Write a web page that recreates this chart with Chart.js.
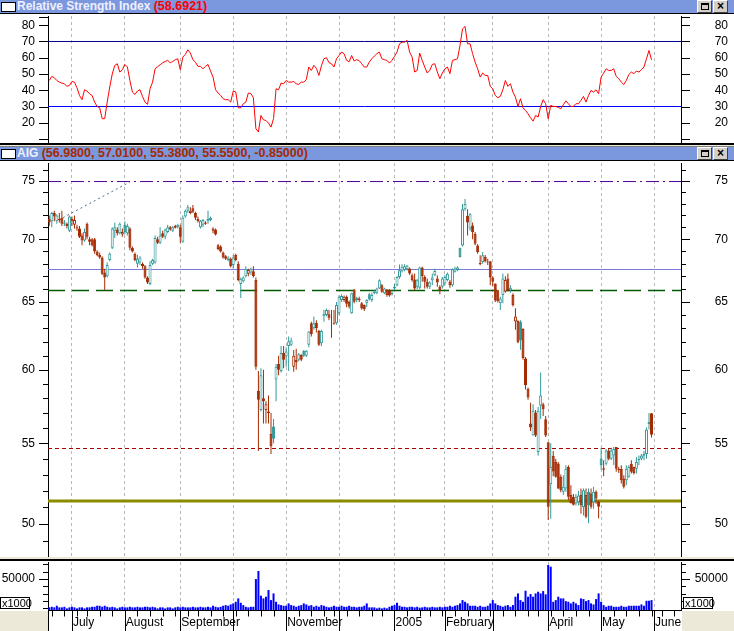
<!DOCTYPE html>
<html>
<head>
<meta charset="utf-8">
<title>AIG</title>
<script src="https://cdn.jsdelivr.net/npm/chart.js@4.4.1/dist/chart.umd.min.js"></script>
<style>
  body { margin: 0; width: 734px; height: 631px; position: relative; overflow: hidden; background: #fff;
         font-family: 'Liberation Sans', Arial, sans-serif; }
  canvas { position: absolute; left: 0; }
  .strip { position: absolute; left: 0; width: 734px; }
  .title { position: absolute; left: 0; width: 734px; height: 13px; background: #7b97de; border-bottom: 1px solid #000;
           font: bold 12px 'Liberation Sans', Arial, sans-serif; line-height: 13px; color: #eef0ff; white-space: nowrap; }
  .title .box { position: absolute; left: 1px; top: 2px; width: 13px; height: 8px; background: #fff; border: 1px solid #000; }
  .title .txt { position: absolute; left: 17px; top: 0; }
  .title .val { font-size: 12.5px; }
  .btn { position: absolute; top: 0; width: 13px; height: 11px; background: #d4d0c8; border: 1px solid;
         border-color: #fff #404040 #404040 #fff; font: bold 12px 'Liberation Sans', Arial, sans-serif;
         line-height: 11px; text-align: center; color: #000; }
  .btn .sq { position: absolute; left: 3px; top: 2px; width: 6px; height: 4px; border: 1px solid #000; border-top-width: 2px; }
  .grey { position: absolute; background: #ece9d8; }
  .unit { position: absolute; top: 597px; width: 27px; height: 10px; border: 1px solid #000; background: #fff;
          font: 11px 'Liberation Sans', Arial, sans-serif; line-height: 10px; padding-left: 1px; }
</style>
</head>
<body>
<div class="grey" style="left:0;top:611px;width:48px;height:20px"></div>
<div class="grey" style="left:682px;top:611px;width:52px;height:20px"></div>

<div class="title" style="top:0">
  <div class="box"></div>
  <div class="txt" id="rsiTitle"></div>
  <div class="btn" style="left:697px"><div class="sq"></div></div>
  <div class="btn" style="left:713px">×</div>
</div>
<canvas id="rsiChart" width="734" height="128" style="top:15px"></canvas>
<div class="strip" style="top:143px;height:2px;background:#000"></div>
<div class="strip" style="top:145px;height:1px;background:#ece9d8"></div>
<div class="strip" style="top:146px;height:1px;background:#808080"></div>
<div class="title" style="top:147px">
  <div class="box"></div>
  <div class="txt" id="priceTitle"></div>
  <div class="btn" style="left:697px"><div class="sq"></div></div>
  <div class="btn" style="left:713px">×</div>
</div>
<canvas id="priceChart" width="734" height="395" style="top:162px"></canvas>
<div class="strip" style="top:557px;height:2px;background:#ece9d8"></div>
<div class="strip" style="top:559px;height:2px;background:#000"></div>
<canvas id="volChart" width="734" height="70" style="top:561px"></canvas>
<div class="unit" style="left:0">x1000</div>
<div class="unit" style="left:683px">x1000</div>

<script>
// daily bars, 18 Jun 2004 .. 31 May 2005
const opens = [
  71.7,71.5,72.2,71.5,71.6,71.8,71.4,71.3,70.7,71.5,
  71.2,71.0,70.9,70.3,69.9,71.3,70.0,70.0,70.0,69.0,
  68.7,68.5,67.3,67.0,68.3,69.3,70.7,70.8,70.5,70.4,
  71.2,70.5,70.9,69.3,68.8,68.0,68.1,68.0,67.8,66.9,
  66.4,68.0,68.1,70.0,69.7,70.5,70.2,70.6,71.0,70.7,
  71.1,71.0,71.0,69.8,71.9,72.4,72.2,72.6,72.2,71.7,
  71.0,71.2,71.4,71.5,71.6,70.7,70.8,69.5,69.4,68.9,
  68.6,68.3,68.4,67.9,68.7,68.0,66.4,66.6,67.0,67.2,
  67.3,67.4,66.7,58.5,57.2,58.0,57.2,57.1,55.6,56.1,
  59.3,60.4,59.9,61.2,60.95,61.7,61.8,60.2,60.7,60.7,
  61.05,61.36,61.0,61.8,63.39,63.0,63.4,62.8,61.9,63.9,
  64.0,64.05,63.8,63.4,63.39,64.13,65.15,65.14,65.4,65.0,
  64.13,65.96,65.14,65.27,64.9,64.76,64.9,65.6,65.14,65.66,
  65.7,66.04,66.3,65.66,65.91,65.9,65.6,66.04,66.3,66.95,
  67.4,67.5,67.55,67.62,67.08,66.75,66.17,66.1,67.7,66.95,
  66.56,66.17,66.69,67.08,66.82,66.17,66.17,66.43,66.7,66.56,
  66.3,67.35,67.5,69.3,69.49,72.53,71.98,70.9,71.14,70.45,
  69.49,68.07,68.15,68.55,68.1,68.2,66.9,66.43,65.9,64.89,
  65.53,65.8,66.82,65.91,65.53,63.51,63.55,63.5,62.95,60.8,
  58.66,56.3,55.5,57.04,54.43,57.5,57.6,56.59,55.07,52.4,
  54.2,53.8,53.7,52.86,51.93,52.13,53.48,51.73,51.63,51.22,
  51.3,51.73,51.0,51.73,51.93,51.83,51.3,51.93,51.32,54.0,
  53.4,53.69,54.53,54.0,54.21,54.75,53.37,53.37,52.75,52.65,
  52.86,53.69,53.48,53.37,53.9,54.0,54.2,54.3,56.26,56.98
];
const highs = [
  72.0,72.3,72.4,72.1,72.2,72.4,71.6,71.4,72.0,71.9,
  72.0,71.2,71.1,70.5,70.9,71.4,70.2,70.1,70.1,69.1,
  68.9,68.6,67.6,68.1,68.9,71.0,71.4,71.0,71.4,70.9,
  71.5,71.3,71.0,69.4,68.9,68.7,68.6,68.1,67.9,67.0,
  68.2,68.4,70.3,70.2,71.0,70.7,70.9,71.2,71.1,71.1,
  71.2,71.3,71.2,72.0,72.5,72.9,72.7,72.9,72.3,71.9,
  71.6,71.7,71.5,72.4,71.9,71.0,70.9,69.6,69.5,69.0,
  68.7,68.6,68.5,68.7,68.8,68.2,66.9,67.0,67.8,67.6,
  67.7,67.8,66.9,59.9,60.1,60.0,57.8,58.2,57.0,56.6,
  60.4,61.0,61.7,61.7,61.6,62.4,62.3,61.4,61.5,61.2,
  61.1,61.4,61.4,62.8,63.5,63.88,63.6,62.9,62.9,64.4,
  64.5,64.4,64.38,64.38,65.0,65.5,65.6,65.5,65.5,65.1,
  65.7,66.0,65.4,65.4,65.0,64.8,65.2,65.7,65.7,65.9,
  66.1,66.77,66.4,66.1,66.0,66.0,65.8,66.4,67.0,67.94,
  67.95,67.95,67.9,67.7,67.22,67.22,66.8,67.75,67.75,67.08,
  66.82,66.6,67.22,67.6,67.08,66.3,66.95,67.1,67.3,66.7,
  67.62,67.75,67.8,69.3,72.97,73.4,72.53,72.2,71.4,70.6,
  69.6,68.68,68.95,68.7,68.4,68.2,67.0,66.43,65.95,65.4,
  67.22,67.0,67.22,66.3,65.66,64.51,63.6,63.6,63.0,60.9,
  58.74,57.7,57.6,57.2,57.4,59.8,57.7,56.8,55.07,55.0,
  54.5,54.0,53.8,53.0,52.96,53.58,53.58,52.34,51.8,51.8,
  52.0,52.13,52.13,52.13,52.13,52.13,52.24,52.03,51.4,54.7,
  53.9,54.63,54.63,54.7,54.75,54.75,53.5,53.58,52.96,53.58,
  53.6,53.9,53.5,54.11,54.21,54.3,54.5,56.04,57.0,57.01
];
const lows = [
  71.1,71.0,71.5,71.3,71.4,71.1,71.1,70.9,70.6,71.1,
  70.9,70.7,70.1,69.5,69.8,70.0,69.5,69.4,68.8,68.6,
  68.4,67.1,65.9,66.9,68.2,69.2,70.1,70.3,70.4,70.2,
  70.4,70.3,69.1,68.9,68.2,67.7,67.9,67.6,66.8,66.4,
  66.3,67.9,68.0,69.6,69.6,70.1,70.0,70.5,70.7,70.6,
  70.9,70.9,69.7,69.7,71.8,72.2,72.1,72.2,71.6,71.4,
  70.9,71.0,71.2,71.3,71.5,70.5,70.3,69.1,68.9,68.4,
  68.3,68.2,67.7,67.6,68.2,66.6,65.3,66.5,66.9,67.0,
  67.1,66.9,60.0,54.5,57.1,56.3,56.3,56.3,54.3,55.0,
  57.8,59.6,59.8,60.1,60.2,59.9,61.7,59.85,60.0,60.6,
  60.6,60.9,60.9,61.6,62.4,62.9,62.7,61.7,61.7,63.5,
  63.9,63.6,62.3,63.26,63.26,64.0,65.0,65.0,64.6,64.5,
  64.1,64.9,65.0,65.0,64.4,64.3,64.6,65.1,65.0,65.6,
  65.6,66.0,65.7,65.6,65.4,65.4,65.5,65.9,66.2,66.8,
  67.3,67.4,67.45,67.1,66.56,65.91,66.0,66.0,66.56,66.04,
  66.04,66.0,66.3,67.0,66.17,65.6,66.04,66.3,66.6,66.1,
  66.17,67.3,67.4,68.5,69.4,72.4,70.3,70.7,70.0,69.5,
  68.8,67.88,68.0,68.1,67.9,66.3,66.2,65.0,64.95,64.38,
  64.9,65.7,65.8,65.7,64.64,62.89,61.9,61.43,60.7,58.6,
  57.9,55.8,55.5,55.4,54.2,56.6,56.8,55.4,50.23,50.3,
  52.9,52.8,52.1,51.9,51.73,51.93,51.42,51.22,51.1,51.1,
  51.1,50.6,50.5,50.33,50.04,50.9,50.9,51.2,50.33,53.3,
  52.9,53.58,53.9,53.9,53.6,53.17,53.1,52.44,52.13,52.34,
  52.8,53.06,53.0,53.06,53.58,53.9,53.9,54.0,55.9,55.38
];
const closes = [
  71.4,72.2,71.9,72.0,71.7,71.3,71.3,71.1,71.9,71.7,
  71.6,70.9,70.2,69.9,70.6,70.2,69.8,69.5,69.0,68.7,
  68.5,67.2,66.9,67.9,68.8,70.9,71.0,70.5,71.3,70.6,
  70.6,71.1,69.3,69.0,68.3,68.4,68.5,67.8,66.9,66.5,
  67.9,68.3,70.1,69.7,70.3,70.2,70.8,71.0,70.8,71.0,
  70.95,71.2,70.2,71.8,72.4,72.7,72.4,72.3,71.8,71.5,
  71.55,71.6,71.3,71.7,71.8,70.9,70.4,69.2,69.0,68.5,
  68.4,68.5,67.8,68.5,68.3,66.7,66.8,66.9,67.6,67.5,
  67.6,67.0,60.2,57.9,59.6,57.8,57.6,57.0,54.8,55.3,
  60.2,60.0,61.2,60.7,61.3,62.05,62.1,61.0,60.5,61.1,
  60.7,61.0,61.35,62.77,62.58,63.39,63.0,61.8,62.8,64.1,
  64.38,63.8,63.76,63.35,64.76,65.4,65.45,65.4,64.85,64.64,
  65.66,65.02,65.3,65.14,64.5,64.45,65.14,65.2,65.53,65.78,
  66.04,66.69,65.78,66.04,65.53,65.5,65.7,66.17,66.95,67.48,
  67.75,67.8,67.85,67.22,66.69,66.04,66.69,67.7,67.0,66.56,
  66.17,66.5,66.9,67.42,66.5,65.91,66.82,66.95,67.2,66.3,
  67.55,67.62,67.7,68.55,72.53,72.97,71.4,72.1,70.6,69.63,
  68.95,67.95,68.68,68.2,68.18,66.9,66.56,65.1,65.05,65.27,
  66.82,66.7,65.91,66.1,64.76,63.88,61.97,62.1,60.83,58.9,
  58.05,56.04,57.15,55.5,57.15,58.2,57.26,55.5,51.02,53.5,
  53.2,52.86,52.13,52.03,52.24,53.37,51.63,51.25,51.15,51.63,
  51.7,51.12,52.03,50.43,51.12,51.02,51.93,51.53,51.02,53.6,
  53.3,54.53,54.0,54.53,54.63,53.37,53.27,52.65,52.24,53.37,
  53.48,53.17,53.1,53.79,54.0,54.21,54.3,55.9,56.4,55.55
];
// volume, thousands of shares (one line per month)
const volumes = [
  11400,12200,11400,13600,11400,11400,12200,10000,11400,
  12200,11400,10000,11400,11400,10000,11400,11400,12200,12200,13600,13600,12200,13600,12200,11400,12200,11400,10000,11400,12200,
  11400,11400,12200,11400,11400,12200,11400,11400,12200,12200,11400,12200,11400,10000,11400,11400,10000,11400,11400,10000,11400,12200,
  11400,12200,11400,11400,11400,12200,11400,11400,12200,11400,11400,12200,11400,13600,12200,11400,12200,13600,14500,13600,15400,
  16800,19000,23600,17700,14500,12200,11400,12200,12200,50000,61000,27300,23600,25900,35000,21300,30400,19000,15400,14500,13600,
  13600,16800,14500,13600,12200,13600,14500,16800,15400,13600,14500,12200,13600,12200,14500,13600,12200,11400,12200,13600,12200,
  12200,13600,12200,12200,13600,12200,12200,11400,12200,12200,13600,16800,11400,11400,11400,10000,11000,10000,11000,10000,12200,13600,
  14500,17700,13600,12200,12200,11400,12200,12200,11400,12200,11000,11400,12200,11400,11400,12200,11400,11400,12200,11400,
  12200,12200,13600,12200,13600,14500,16800,21300,19000,16800,13600,13600,13600,12200,13600,12200,12200,13600,16800,
  21300,16800,14500,13600,12200,13600,14500,12200,14500,25900,30400,21300,19000,34100,25900,29500,25900,30400,32700,30400,33600,29100,
  69100,66800,19000,21300,25900,23600,23600,19900,19000,16800,19000,16800,14500,23600,22700,19900,21300,16800,15400,22700,30400,
  19000,14500,12200,13600,13600,12200,12200,12200,13600,12200,12200,13600,13600,13600,13600,13600,15400,13600,20400,20400,21300
];
const rsi = [
  46,48.5,47.7,46,45,44.4,44,42.4,43,45.4,
  45,41.5,36.8,34.2,40.3,39.5,37.8,36.8,32.7,30,
  29.2,22.5,22.5,32.7,42,50,55.3,56.3,51.2,52.6,
  55.9,54.3,46,38.9,37.4,39.5,40.3,36.2,32.7,31.3,
  40.9,45,53.2,54.5,55.7,56.9,57.7,58.4,56.9,57.7,
  58.8,59.4,52.6,60.4,62.1,64.9,62.9,58.8,57.3,54.7,
  54.7,53.2,54.7,55.9,51.8,48.1,40.3,38.3,36.8,34.8,
  34.2,34.2,32.7,39.5,39,29.2,29.2,31.7,32.7,38.3,
  38,35.4,16.3,14.3,24.5,21.8,21.4,19.8,17.3,22.5,
  40.9,40.3,44.4,44,46,45,45,45.4,44,43.6,
  45,45,46.5,54.3,52.2,55.3,53.5,49.1,55,59.4,
  60,57,56.3,54.3,59.4,61.4,63.5,62.5,58.4,57.5,
  61.4,58,58.8,58.2,56.3,54.3,54.3,57.3,59.4,61,
  62.5,63.5,59.4,58.8,58.4,56.7,58.4,60.8,63.5,68.6,
  69.6,69.6,70.7,63.5,60.4,51.2,52.2,62.9,58.4,54.3,
  50.6,52.2,55.9,56.3,51.2,47.1,50.6,53.2,54.3,50.2,
  58.4,58.8,59.4,67.6,77.8,79.3,68.6,68.6,62.5,57.3,
  53.2,48.1,50.6,49.1,49.1,42.4,40.9,36.8,35.4,36.2,
  40.3,46,42.4,44,38.9,35.8,30,34.8,29.2,27.6,
  25.5,23.1,21,24.5,23.5,30,34.2,31.7,22.5,30.7,
  30,30,29.5,28.6,31,33.5,31.7,30,30,31.7,
  31.7,33.8,36.2,32.7,36.8,39.9,38.9,40.3,37.9,48.1,
  50.5,53.2,52.2,52.2,53.2,48.5,47.1,45,43.5,46,
  49.7,51.2,50.2,51.8,51.2,52.6,54.3,59.4,64.5,58.6921
];

const rsiLevels = [70, 30];
const priceLevels = [74.94, 67.54, 65.88, 54.66, 51.37];
const trendIdx = [5.4, 32];
const trendVal = [71.8, 74.9];

const monthLabels = ['July', 'August', 'September', '', 'November', '', '2005', 'February', '', 'April', 'May', 'June'];
const holidays = ['2004-07-05', '2004-09-06', '2004-11-25', '2004-12-24', '2005-01-17', '2005-02-21', '2005-03-25', '2005-05-30'];
const rsiTicks = [20, 30, 40, 50, 60, 70, 80];
const priceTicks = [50, 55, 60, 65, 70, 75];
const volTicks = [50000];

// trading calendar -> month / week starts
const days = [];
for (let t = Date.UTC(2004, 5, 18); days.length < 252; t += 864e5) {
  const d = new Date(t);
  const wd = d.getUTCDay();
  if (wd === 0 || wd === 6 || holidays.includes(d.toISOString().slice(0, 10))) continue;
  days.push(d);
}
const monthStarts = [], weekStarts = [];
days.forEach((d, i) => {
  if (!i) return;
  if (d.getUTCMonth() !== days[i - 1].getUTCMonth()) monthStarts.push(i);
  if (d.getUTCDay() <= days[i - 1].getUTCDay()) weekStarts.push(i);
});

const RED = '#a52a00', TEAL = '#339999';
const candleColor = closes.map((c, i) => c >= (i ? closes[i - 1] : opens[i]) ? TEAL : RED);
const bodyFill = closes.map((c, i) => c < opens[i] ? candleColor[i] : '#fff');

const last = closes.length - 1;
document.getElementById('rsiTitle').innerHTML =
  'Relative Strength Index <span class="val" style="color:#ff0000">(' + rsi[last].toFixed(4) + ')</span>';
document.getElementById('priceTitle').innerHTML =
  'AIG <span class="val" style="color:#a52a00">(' + [opens[last], highs[last], lows[last], closes[last]].map(v => v.toFixed(4)).join(', ') +
  ', ' + (closes[last] - closes[last - 1]).toFixed(5) + ')</span>';

Chart.defaults.font.family = "'Liberation Sans', Arial, sans-serif";
Chart.defaults.font.size = 12;
Chart.defaults.color = '#000';

const sideTicks = {
  id: 'sideTicks',
  afterDraw(chart, args, opts) {
    const {ctx, chartArea: a, scales: {y}} = chart;
    ctx.save();
    ctx.strokeStyle = '#000';
    ctx.lineWidth = 1;
    ctx.beginPath();
    const mark = (v, len) => {
      const py = Math.round(y.getPixelForValue(v)) + 0.5;
      ctx.moveTo(a.left - len, py); ctx.lineTo(a.left, py);
      ctx.moveTo(a.right, py); ctx.lineTo(a.right + len, py);
    };
    opts.long.forEach(v => mark(v, 9));
    opts.short.forEach(v => mark(v, 5));
    ctx.stroke();
    ctx.restore();
  }
};

const timeAxis = {
  id: 'timeAxis',
  afterDraw(chart) {
    const {ctx, chartArea: a, scales: {x}} = chart;
    const yb = Math.round(a.bottom) + 0.5;
    ctx.save();
    ctx.strokeStyle = '#000';
    ctx.lineWidth = 1;
    ctx.beginPath();
    ctx.moveTo(a.left, yb); ctx.lineTo(a.right, yb);
    [-0.5, ...monthStarts].forEach(i => {
      const px = Math.round(x.getPixelForValue(i)) + 0.5;
      ctx.moveTo(px, yb); ctx.lineTo(px, chart.height);
    });
    weekStarts.forEach(i => {
      const px = Math.round(x.getPixelForValue(i)) + 0.5;
      ctx.moveTo(px, yb); ctx.lineTo(px, yb + 6);
    });
    ctx.stroke();
    ctx.restore();
  }
};

function timeScale(labels) {
  return {
    type: 'linear', min: -0.5, max: 250.7, offset: false, bounds: 'data',
    afterBuildTicks: s => { s.ticks = monthStarts.map(v => ({value: v})); },
    afterFit: s => { s.height = labels ? 21 : 0; },
    grid: {color: '#b8b8b8', lineWidth: 1, drawTicks: false, offset: false},
    border: {display: false, dash: [3, 3]},
    ticks: {
      display: labels, autoSkip: false, maxRotation: 0, minRotation: 0, align: 'start', labelOffset: 1, padding: 5,
      callback: v => monthLabels[monthStarts.indexOf(v)] || ''
    }
  };
}

function sideScale(pos, type, min, max, labelled) {
  return {
    type, position: pos, min, max, bounds: 'data', stacked: false,
    afterBuildTicks: s => { s.ticks = labelled.map(v => ({value: v})); },
    afterFit: s => { s.width = pos === 'left' ? 48 : 47; s.paddingTop = 0; s.paddingBottom = 0; },
    grid: {display: false, drawTicks: false},
    border: {display: true, color: '#000', width: 1},
    ticks: {padding: 13, crossAlign: pos === 'left' ? 'near' : 'far', callback: v => String(v)}
  };
}

const base = {
  responsive: false, animation: false, events: [],
  layout: {autoPadding: false, padding: {top: 1, right: 6, left: 0, bottom: 0}},
};

function hLine(v, color, width, dash) {
  return {
    type: 'line', data: [{x: -0.5, y: v}, {x: 250.7, y: v}],
    borderColor: color, borderWidth: width, borderDash: dash, pointRadius: 0
  };
}

// RSI panel
new Chart(document.getElementById('rsiChart'), {
  type: 'line',
  data: {
    datasets: [
      {data: rsi.map((v, i) => ({x: i, y: v})), borderColor: '#ff0000', borderWidth: 1, pointRadius: 0, tension: 0},
      hLine(rsiLevels[0], '#000090', 1, []),
      hLine(rsiLevels[1], '#0000ff', 1, [])
    ]
  },
  options: {
    ...base,
    plugins: {legend: {display: false}, tooltip: {enabled: false}, sideTicks: {long: [10, ...rsiTicks, 85], short: []}},
    scales: {
      x: timeScale(false),
      y: sideScale('left', 'linear', 7.54, 85.69, rsiTicks),
      y2: sideScale('right', 'linear', 7.54, 85.69, rsiTicks)
    }
  },
  plugins: [sideTicks]
});

// price panel
const priceMinor = [];
for (let v = 49; v <= 76; v++) if (v % 5) priceMinor.push(v);

new Chart(document.getElementById('priceChart'), {
  type: 'bar',
  data: {
    datasets: [
      {data: opens.map((o, i) => ({x: i, y: [o, closes[i]]})), backgroundColor: bodyFill, borderColor: candleColor,
       borderWidth: 1, borderSkipped: false, barThickness: 3, stack: 'c', inflateAmount: 0},
      {data: lows.map((l, i) => ({x: i, y: [l, highs[i]]})), backgroundColor: candleColor, borderWidth: 0,
       barThickness: 1, stack: 'c', inflateAmount: 0},
      hLine(priceLevels[0], '#5000a0', 1, [13, 4, 2, 4]),
      hLine(priceLevels[1], '#7878d8', 1, []),
      hLine(priceLevels[2], '#005a00', 1.5, [17, 7]),
      hLine(priceLevels[3], '#a00000', 1, [4, 3]),
      hLine(priceLevels[4], '#8b8b00', 3, []),
      {type: 'line', data: trendIdx.map((x, k) => ({x, y: trendVal[k]})), borderColor: '#4f6f90', borderWidth: 1,
       borderDash: [2, 3], pointRadius: 0}
    ]
  },
  options: {
    ...base,
    plugins: {legend: {display: false}, tooltip: {enabled: false}, sideTicks: {long: priceTicks, short: priceMinor}},
    scales: {
      x: timeScale(false),
      y: sideScale('left', 'logarithmic', 48.08, 76.6, priceTicks),
      y2: sideScale('right', 'logarithmic', 48.08, 76.6, priceTicks)
    }
  },
  plugins: [sideTicks]
});

// volume panel
new Chart(document.getElementById('volChart'), {
  type: 'bar',
  data: {
    datasets: [
      {data: volumes.map((v, i) => ({x: i, y: v})), backgroundColor: '#0000ff', barThickness: 2, inflateAmount: 0}
    ]
  },
  options: {
    ...base,
    plugins: {legend: {display: false}, tooltip: {enabled: false},
              sideTicks: {long: volTicks, short: [10000, 20000, 30000, 40000, 60000, 70000]}},
    scales: {
      x: timeScale(true),
      y: sideScale('left', 'linear', 7800, 73200, volTicks),
      y2: sideScale('right', 'linear', 7800, 73200, volTicks)
    }
  },
  plugins: [sideTicks, timeAxis]
});
</script>
</body>
</html>
